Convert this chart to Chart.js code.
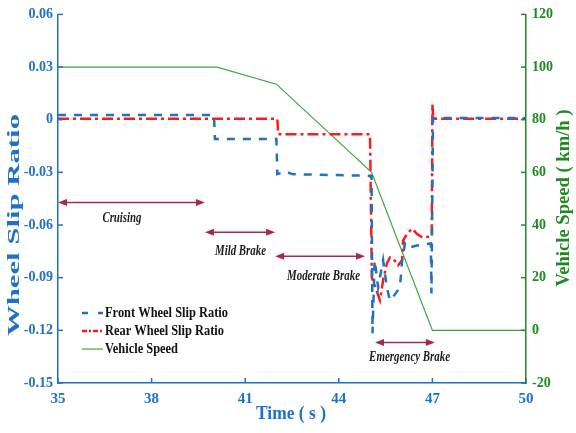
<!DOCTYPE html>
<html>
<head>
<meta charset="utf-8">
<script src="https://cdn.jsdelivr.net/npm/chart.js@4.4.1/dist/chart.umd.min.js"></script>
<style>
  html, body { margin: 0; padding: 0; background: #fff; }
  #wrap { width: 576px; height: 433px; }
</style>
</head>
<body>
<div id="wrap"><canvas id="grafik" width="576" height="433"></canvas></div>
<script>
// time axis (s)
const xTicks = [35, 38, 41, 44, 47, 50];
const slipTicks = [-0.15, -0.12, -0.09, -0.06, -0.03, 0, 0.03, 0.06];
const speedTicks = [-20, 0, 20, 40, 60, 80, 100, 120];

// front wheel slip ratio
const frontT = [35, 40.0, 40.03, 42.0, 42.03, 42.3, 42.5, 45.05, 45.08, 45.15, 45.26, 45.42, 45.54, 45.64, 45.74, 45.96, 46.03, 46.12, 46.22, 46.5, 46.95, 46.97, 47.02, 50];
const frontSlip = [0.0027, 0.0027, -0.011, -0.011, -0.031, -0.0295, -0.031, -0.032, -0.1217, -0.08, -0.0955, -0.08, -0.0955, -0.103, -0.101, -0.0955, -0.08, -0.0705, -0.073, -0.0717, -0.0705, -0.099, 0.001, 0.001];

// rear wheel slip ratio
const rearT = [35, 42.03, 42.06, 45.0, 45.06, 45.32, 45.42, 45.54, 45.64, 45.74, 45.9, 46.03, 46.06, 46.19, 46.35, 46.5, 46.67, 46.98, 47.0, 47.03, 50];
const rearSlip = [0.0005, 0.0005, -0.0083, -0.0083, -0.09, -0.1029, -0.0915, -0.0819, -0.0785, -0.079, -0.083, -0.08, -0.0689, -0.0649, -0.062, -0.065, -0.067, -0.0666, 0.009, 0.0005, 0.0005];

// vehicle speed (km/h)
const speedT = [35, 40.1, 42.0, 45.05, 47.0, 50];
const speed = [100, 100, 93.5, 60, 0, 0];

// braking phases (time span, slip level of arrow, label anchor)
const phaseNames = ["Cruising", "Mild Brake", "Moderate Brake", "Emergency Brake"];
const phaseFrom = [35.0, 39.71, 41.96, 45.16];
const phaseTo = [39.71, 41.96, 44.84, 47.08];
const phaseY = [-0.0471, -0.0641, -0.0778, -0.1269];
const phaseLabelX = [37.05, 40.85, 43.51, 46.27];
const phaseLabelY = [-0.0562, -0.0751, -0.0891, -0.1351];

const BLUE = "#1f72c4";
const RED = "#ff1a1a";
const GREEN = "#3da63d";
const AXGREEN = "#1f8a1f";
const ARROW = "#a52a48";
const SERIF = "'Liberation Serif', 'Times New Roman', serif";

const pts = (xs, ys) => xs.map((x, i) => ({ x, y: ys[i] }));

function fitText(ctx, text, x, y, font, target, rot, align) {
  ctx.save();
  ctx.translate(x, y);
  if (rot) ctx.rotate(rot);
  ctx.font = font;
  const w = ctx.measureText(text).width;
  ctx.scale(target / w, 1);
  ctx.textAlign = align || "center";
  ctx.textBaseline = "middle";
  ctx.fillText(text, 0, 0);
  ctx.restore();
}

function arrowHead(ctx, x, y, dir) {
  ctx.beginPath();
  ctx.moveTo(x, y);
  ctx.lineTo(x - dir * 9, y - 3.5);
  ctx.lineTo(x - dir * 9, y + 3.5);
  ctx.closePath();
  ctx.fill();
}

const hiasan = {
  id: "hiasan",
  afterDraw(chart) {
    const ctx = chart.ctx;
    const { x, y, y1 } = chart.scales;
    const a = chart.chartArea;

    // inner tick marks
    ctx.save();
    ctx.lineWidth = 1.5;
    ctx.strokeStyle = BLUE;
    xTicks.forEach(v => {
      const px = x.getPixelForValue(v);
      ctx.beginPath(); ctx.moveTo(px, a.bottom); ctx.lineTo(px, a.bottom - 5); ctx.stroke();
    });
    slipTicks.forEach(v => {
      const py = y.getPixelForValue(v);
      ctx.beginPath(); ctx.moveTo(a.left, py); ctx.lineTo(a.left + 5, py); ctx.stroke();
    });
    ctx.strokeStyle = AXGREEN;
    speedTicks.forEach(v => {
      const py = y1.getPixelForValue(v);
      ctx.beginPath(); ctx.moveTo(a.right, py); ctx.lineTo(a.right - 5, py); ctx.stroke();
    });
    ctx.restore();

    // phase arrows + labels
    ctx.save();
    ctx.strokeStyle = ARROW;
    ctx.fillStyle = ARROW;
    ctx.lineWidth = 1.5;
    phaseNames.forEach((name, i) => {
      const x1 = x.getPixelForValue(phaseFrom[i]);
      const x2 = x.getPixelForValue(phaseTo[i]);
      const py = y.getPixelForValue(phaseY[i]);
      ctx.beginPath(); ctx.moveTo(x1 + 4, py); ctx.lineTo(x2 - 4, py); ctx.stroke();
      arrowHead(ctx, x1, py, -1);
      arrowHead(ctx, x2, py, 1);
    });
    ctx.fillStyle = "#1a1a1a";
    const labelW = [39, 51, 73, 81];
    phaseNames.forEach((name, i) => {
      fitText(ctx, name, x.getPixelForValue(phaseLabelX[i]), y.getPixelForValue(phaseLabelY[i]),
        "italic bold 15px " + SERIF, labelW[i]);
    });
    ctx.restore();

    // axis titles
    ctx.save();
    ctx.fillStyle = BLUE;
    fitText(ctx, "Wheel Slip Ratio", 15, 225, "bold 16px " + SERIF, 222, -Math.PI / 2);
    fitText(ctx, "Time ( s )", 291, 414, "bold 18px " + SERIF, 70);
    ctx.fillStyle = AXGREEN;
    fitText(ctx, "Vehicle Speed ( km/h )", 564, 198, "bold 18px " + SERIF, 177, -Math.PI / 2);
    ctx.restore();

    // legend
    ctx.save();
    const rows = [
      { text: "Front Wheel Slip Ratio", color: BLUE, dash: [6, 10], w: 123, lw: 2.5 },
      { text: "Rear Wheel Slip Ratio", color: RED, dash: [5, 2, 2, 2], w: 119, lw: 2.5 },
      { text: "Vehicle Speed", color: GREEN, dash: [], w: 73, lw: 1.2 }
    ];
    const ly = [313, 331, 349];
    rows.forEach((r, i) => {
      ctx.strokeStyle = r.color;
      ctx.lineWidth = r.lw;
      ctx.setLineDash(r.dash);
      ctx.beginPath(); ctx.moveTo(82, ly[i]); ctx.lineTo(103, ly[i]); ctx.stroke();
      ctx.setLineDash([]);
      ctx.fillStyle = "#111";
      fitText(ctx, r.text, 105, ly[i], "bold 15px " + SERIF, r.w, 0, "left");
    });
    ctx.restore();
  }
};

new Chart(document.getElementById("grafik"), {
  type: "line",
  data: {
    datasets: [
      {
        label: "Front Wheel Slip Ratio",
        data: pts(frontT, frontSlip),
        yAxisID: "y",
        borderColor: BLUE,
        borderWidth: 2.5,
        borderDash: [8, 8]
      },
      {
        label: "Rear Wheel Slip Ratio",
        data: pts(rearT, rearSlip),
        yAxisID: "y",
        borderColor: RED,
        borderWidth: 2.5,
        borderDash: [11, 4, 3, 4]
      },
      {
        label: "Vehicle Speed",
        data: pts(speedT, speed),
        yAxisID: "y1",
        borderColor: GREEN,
        borderWidth: 1.2
      }
    ]
  },
  options: {
    responsive: false,
    animation: false,
    layout: { padding: { top: 13, left: 0, right: 0, bottom: 0 } },
    elements: { point: { radius: 0 }, line: { tension: 0, fill: false } },
    plugins: { legend: { display: false }, tooltip: { enabled: false } },
    scales: {
      x: {
        type: "linear",
        min: 35,
        max: 50,
        afterBuildTicks: s => { s.ticks = xTicks.map(v => ({ value: v })); },
        afterFit: s => { s.height = 50; },
        grid: { display: false, drawTicks: false },
        border: { display: true, color: BLUE, width: 1.5 },
        ticks: { color: BLUE, padding: 7, font: { family: SERIF, weight: "bold", size: 15 } }
      },
      y: {
        position: "left",
        min: -0.15,
        max: 0.06,
        afterBuildTicks: s => { s.ticks = slipTicks.map(v => ({ value: v })); },
        afterFit: s => { s.width = 58; },
        grid: { display: false, drawTicks: false },
        border: { display: true, color: BLUE, width: 1.5 },
        ticks: {
          color: BLUE,
          padding: 5,
          font: { family: SERIF, weight: "bold", size: 14 },
          callback: v => (Math.abs(v) < 1e-9 ? "0" : v.toFixed(2))
        }
      },
      y1: {
        position: "right",
        min: -20,
        max: 120,
        afterBuildTicks: s => { s.ticks = speedTicks.map(v => ({ value: v })); },
        afterFit: s => { s.width = 50; },
        grid: { display: false, drawTicks: false },
        border: { display: true, color: AXGREEN, width: 1.5 },
        ticks: { color: AXGREEN, padding: 6, font: { family: SERIF, weight: "bold", size: 14 } }
      }
    }
  },
  plugins: [hiasan]
});
</script>
</body>
</html>
